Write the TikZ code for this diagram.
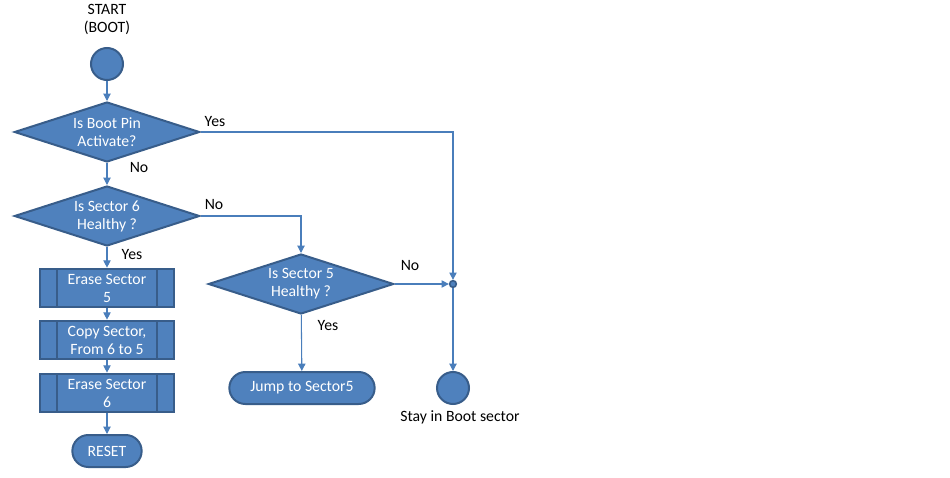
\documentclass[tikz,border=0pt]{standalone}
\usepackage{fontspec}
\setmainfont{Carlito}
\usetikzlibrary{shapes.geometric,arrows.meta}
\definecolor{boxfill}{HTML}{4F81BD}
\definecolor{boxline}{HTML}{385D8A}
\definecolor{flowline}{HTML}{4A7EBB}
\begin{document}
\begin{tikzpicture}
[x=0.75pt,y=-0.75pt,>={Triangle[length=5.5pt,width=5.5pt]},
 font=\fontsize{11.8pt}{13.5pt}\selectfont,
 block/.style = {draw=boxline, line width=1.5pt, fill=boxfill, text=white, align=center, inner sep=0pt},
 decision/.style = {block, diamond, aspect=3, minimum width=139pt, minimum height=45pt},
 process/.style = {block, rectangle, minimum width=101pt, minimum height=29pt,
   path picture={\draw[boxline, line width=1.5pt]
     ([xshift=12.75pt]path picture bounding box.north west) -- ([xshift=12.75pt]path picture bounding box.south west)
     ([xshift=-12.75pt]path picture bounding box.north east) -- ([xshift=-12.75pt]path picture bounding box.south east);}},
 terminal/.style = {block, rectangle, rounded corners=12pt, minimum height=24pt},
 state/.style = {block, circle, minimum size=24pt},
 link/.style = {draw=flowline, line width=0.8pt},
 dot/.style = {circle, draw=boxline, line width=1.2pt, fill=boxfill, inner sep=0pt, minimum size=5pt},
 ]

\useasboundingbox (0,0) rectangle (950,478);

\node (title) at (107,19) [align=center] {START\\(BOOT)};
\node (start) at (107,64) [state] {};
\node (pin) at (107,132) [decision] {Is Boot Pin\\Activate?};
\node (six) at (107,216) [decision] {Is Sector 6\\Healthy ?};
\node (erase5) at (107,288) [process] {Erase Sector\\5};
\node (copy) at (107,340) [process] {Copy Sector,\\From 6 to 5};
\node (erase6) at (107,393) [process] {Erase Sector\\6};
\node (reset) at (107,451) [terminal, minimum width=52pt] {RESET};
\node (five) at (301,284) [decision] {Is Sector 5\\Healthy ?};
\node (jump) at (302,388) [terminal, minimum width=109pt] {Jump to Sector5};
\node (join) at (453,284) [dot] {};
\node (stay) at (453,388) [state] {};

\draw [link,->] (start)--(pin);
\draw [link,->] (pin)--(six);
\draw [link,->] (six)--(erase5);
\draw [link,->] (erase5)--(copy);
\draw [link,->] (copy)--(erase6);
\draw [link,->] (erase6)--(reset);
\draw [link,->] (pin.east)--(pin.east -| join)--(join);
\draw [link,->] (six.east)--(six.east -| five)--(five);
\draw [link,->] (five)--(jump);
\draw [link,->] (five.east)--(join);
\draw [link,->] (join)--(stay);

\node (yesPin) at (215,122) {Yes};
\node (noPin) at (139,168) {No};
\node (noSix) at (214,205) {No};
\node (yesSix) at (132,255) {Yes};
\node (noFive) at (410,266) {No};
\node (yesFive) at (328,326) {Yes};
\node (stayText) at (460,417) {Stay in Boot sector};

\end{tikzpicture}
\end{document}
